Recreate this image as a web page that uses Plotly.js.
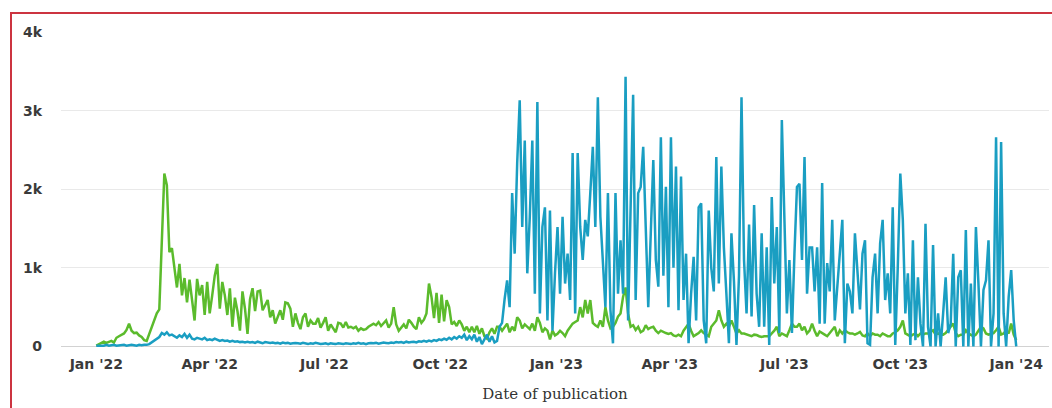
<!DOCTYPE html>
<html>
<head>
<meta charset="utf-8">
<script src="https://cdn.plot.ly/plotly-3.0.1.min.js"></script>
<style>
  html, body { margin: 0; padding: 0; background: #ffffff; overflow: hidden; }
  #wrap { position: relative; width: 1052px; height: 408px; }
  #chart { position: absolute; left: 0; top: 0; width: 1052px; height: 408px; }
  #frame { position: absolute; left: 10px; top: 12px; width: 1100px; height: 500px;
           border-left: 2px solid #cc3440; border-top: 2px solid #cc3440; pointer-events: none; }
</style>
</head>
<body>
<div id="wrap">
  <div id="chart"></div>
  <div id="frame"></div>
</div>
<script>
// Series sampled every 2 days starting 1 Jan 2022
const startDate = '2022-01-01';
const stepDays = 2;

const greenSeries = [
  10,30,45,60,45,55,70,50,110,130,
  150,165,210,290,200,170,175,140,120,80,
  70,160,230,330,420,470,1350,2200,2050,1200,
  1250,1000,750,1050,650,870,560,850,600,330,
  860,650,780,400,820,420,650,900,1050,480,
  820,650,400,740,250,620,450,200,700,480,
  160,600,740,450,700,710,460,530,590,370,
  460,290,380,460,340,560,550,480,250,420,
  300,220,370,420,250,330,290,290,360,240,
  300,370,200,280,230,180,300,290,240,310,
  240,250,230,250,200,230,210,220,250,270,
  290,270,310,260,300,330,240,290,500,280,
  200,240,280,230,340,300,250,220,370,300,
  340,420,800,630,360,680,300,660,320,590,
  500,280,310,260,330,280,200,250,180,250,
  180,260,160,230,130,100,180,230,160,250,
  250,200,240,290,180,250,200,370,330,230,
  280,250,220,290,200,370,300,180,230,200,
  90,200,140,160,200,170,130,200,250,290,
  310,330,500,370,590,420,590,300,270,250,
  330,250,500,330,230,250,300,380,420,630,
  750,420,250,270,210,250,180,200,270,220,
  240,250,200,170,200,180,170,160,170,140,
  130,150,130,200,240,290,200,130,150,170,
  205,170,150,130,250,290,330,460,330,250,
  290,250,330,250,165,205,165,165,150,145,
  130,150,145,130,120,130,130,130,165,200,
  250,130,165,150,130,205,290,250,250,290,
  205,250,165,200,290,200,130,190,165,150,
  130,170,205,250,130,205,165,205,180,165,
  165,150,165,185,140,130,165,130,165,150,
  150,130,165,150,130,130,165,180,205,250,
  330,165,150,130,150,165,130,165,150,165,
  165,180,205,150,165,150,150,170,205,250,
  290,170,130,150,150,205,165,150,130,150,
  205,250,230,165,150,165,170,205,250,150,
  165,205,165,290,150,80
];

const blueSeries = [
  10,10,15,10,20,10,15,20,10,15,
  15,20,10,15,20,15,10,20,15,20,
  20,30,50,70,90,120,170,150,180,140,
  150,130,110,140,120,160,110,150,100,90,
  110,100,90,110,80,90,80,100,80,70,
  80,70,75,60,70,60,65,55,60,50,
  60,50,55,45,60,50,40,55,50,45,
  50,40,45,35,50,40,45,35,40,45,
  40,35,45,40,30,40,35,45,40,30,
  35,40,30,40,35,30,40,35,30,40,
  35,30,40,35,45,35,40,30,40,45,
  40,45,35,40,50,45,40,50,45,55,
  50,55,45,60,50,55,60,50,65,60,
  70,60,75,65,80,70,90,80,100,85,
  110,90,120,100,130,110,150,80,130,90,
  150,60,120,30,100,150,60,130,50,70,
  250,300,600,840,500,1950,1180,2330,3130,1520,
  2620,930,1650,2620,670,3110,420,1520,1770,330,
  1730,200,930,1520,670,1650,800,1180,590,2460,
  420,2460,1520,1100,1610,1400,1950,2540,1520,3170,
  1650,1100,500,1950,460,40,1950,670,1350,670,
  3430,330,1950,3200,590,1950,2030,2540,1520,500,
  1440,2370,1100,760,2660,900,2030,500,2660,1000,
  2290,460,2160,590,1180,40,670,1140,330,1770,
  1820,330,40,1730,1000,700,2410,800,2290,1260,
  670,40,1440,830,20,900,3170,1100,420,1550,
  380,1800,670,250,1440,250,1260,20,1900,800,
  1520,170,2880,1520,420,1100,170,1180,2030,2070,
  1100,2410,670,1260,1260,700,1260,290,2080,290,
  1060,700,1610,330,780,1100,1610,40,800,700,
  420,1440,880,470,1180,1350,40,20,880,1180,
  420,1310,1610,590,930,420,1770,20,1010,2200,
  1610,420,930,20,1350,80,880,290,0,1560,
  250,0,1290,0,420,0,420,880,170,290,
  1180,0,880,970,0,1480,0,800,0,1520,
  800,0,720,840,1350,0,420,2660,0,2600,
  420,0,630,970,330,0
];

const xTickVals = ['2022-01-01','2022-04-01','2022-07-01','2022-10-01','2023-01-01','2023-04-01','2023-07-01','2023-10-01','2024-01-01'];
const xTickText = ["Jan '22","Apr '22","Jul '22","Oct '22","Jan '23","Apr '23","Jul '23","Oct '23","Jan '24"];
const yTickVals = [0, 1000, 2000, 3000, 4000];
const yTickText = ['0', '1k', '2k', '3k', '4k'];
const xTitle = 'Date of publication';

function datesFor(n) {
  const out = [];
  const base = new Date(startDate + 'T00:00:00Z');
  for (let i = 0; i < n; i++) {
    const d = new Date(base.getTime() + i * stepDays * 86400000);
    out.push(d.toISOString().slice(0, 10));
  }
  return out;
}

const traces = [
  { type: 'scatter', mode: 'lines', x: datesFor(greenSeries.length), y: greenSeries,
    line: { color: '#5bbb2c', width: 2.5 }, hoverinfo: 'skip', showlegend: false },
  { type: 'scatter', mode: 'lines', x: datesFor(blueSeries.length), y: blueSeries,
    line: { color: '#1a9ec2', width: 2.5 }, hoverinfo: 'skip', showlegend: false }
];

const layout = {
  width: 1052, height: 408,
  margin: { l: 61, r: 3, t: 32, b: 60 },
  paper_bgcolor: '#ffffff', plot_bgcolor: '#ffffff',
  showlegend: false,
  xaxis: {
    type: 'date',
    range: ['2021-12-04', '2024-01-27'],
    tickmode: 'array', tickvals: xTickVals, ticktext: xTickText,
    showgrid: false, zeroline: false, showline: false, ticks: '',
    ticklabelstandoff: 6,
    tickfont: { family: 'DejaVu Sans', size: 14, color: '#3a3a3a', weight: 'bold' },
    title: { text: xTitle, standoff: 17,
             font: { family: 'DejaVu Serif', size: 15, color: '#333333' } }
  },
  yaxis: {
    range: [-20, 4000],
    tickmode: 'array', tickvals: yTickVals, ticktext: yTickText,
    showgrid: true, gridcolor: '#e9e9e9', gridwidth: 1,
    zeroline: true, zerolinecolor: '#d2d2d2', zerolinewidth: 1,
    showline: false, ticks: '',
    ticklabelstandoff: 18,
    tickfont: { family: 'DejaVu Sans', size: 14, color: '#3a3a3a', weight: 'bold' }
  }
};

Plotly.newPlot('chart', traces, layout, { displayModeBar: false, staticPlot: true });
</script>
</body>
</html>
